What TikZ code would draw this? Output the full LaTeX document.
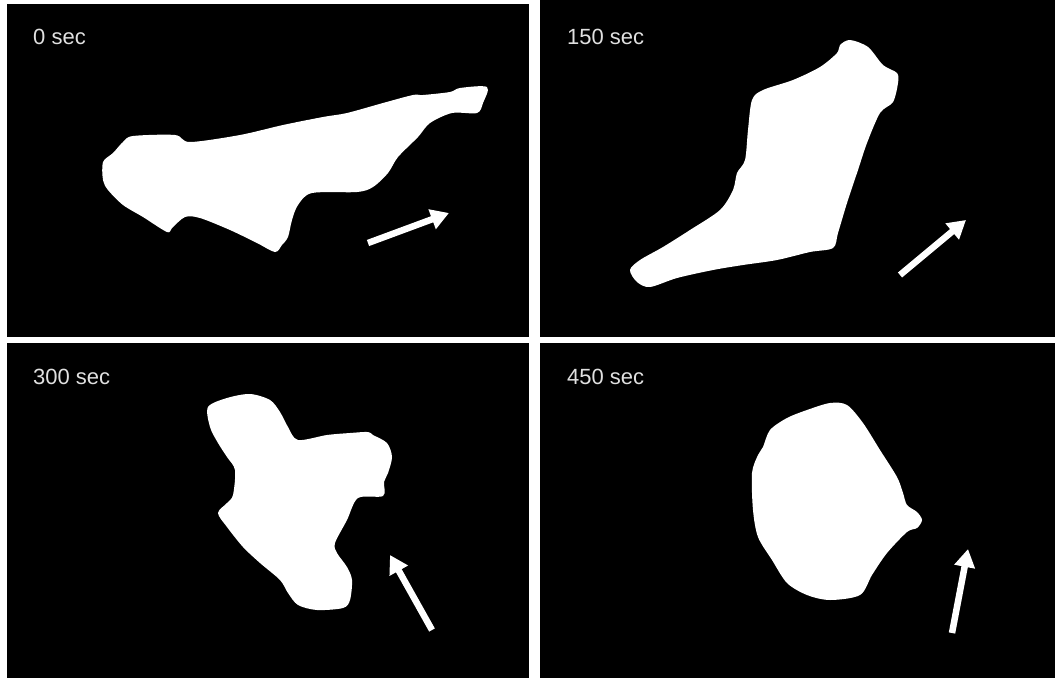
\documentclass[tikz,border=0pt]{standalone}
\usepackage{fontspec}
\setmainfont{Liberation Sans}
\usetikzlibrary{arrows.meta}

\begin{document}
\begin{tikzpicture}[x=1pt, y=-1pt,
  panel/.style={fill=black},
  flow/.style={draw=white, line width=6.5pt, -{Triangle[length=18pt, width=20pt]}},
  stamp/.style={anchor=base west, inner sep=0pt, text=white!88!black, font=\fontsize{22}{25}\selectfont}]
\useasboundingbox (0,0) rectangle (1055,678);
\fill[white] (0,0) rectangle (1055,678);
\fill[panel] (7,4) rectangle (529,337);
\fill[panel] (540,0) rectangle (1055,337);
\fill[panel] (7,343) rectangle (529,678);
\fill[panel] (540,343) rectangle (1055,678);
\node[stamp] (t0) at (33,44) {0 sec};
\node[stamp] (t150) at (567,44) {150 sec};
\node[stamp] (t300) at (33,384) {300 sec};
\node[stamp] (t450) at (567,384) {450 sec};
\fill[white] plot[smooth cycle, tension=0.5] coordinates {
  (103,162) (103,180) (108,190) (123,205) (143,217) (167,232) (172,228) (185,217)
  (200,218) (230,230) (257,243) (275,252) (282,245) (288,237) (292,220) (298,205)
  (312,193) (357,192) (373,187) (388,173) (398,157) (418,137) (430,123) (452,113)
  (477,113) (483,103) (487,87) (460,88) (450,92) (423,95) (413,95) (383,103)
  (347,113) (323,117) (283,125) (240,135) (190,142) (175,135) (133,136) (123,142)
  (113,153)};
\fill[white] plot[smooth cycle, tension=0.5] coordinates {
  (850,40) (868,47) (883,65) (897,73) (898,83) (893,102) (880,113) (867,143)
  (858,170) (847,203) (838,233) (833,248) (810,252) (777,260) (743,265) (713,270)
  (677,278) (650,287) (637,282) (630,270) (640,260) (663,247) (690,230) (720,210)
  (733,190) (737,173) (745,160) (748,130) (752,100) (763,90) (793,80) (820,67)
  (837,53) (840,45)};
\fill[white] plot[smooth cycle, tension=0.5] coordinates {
  (208,407) (227,398) (250,394) (270,400) (280,412) (288,427) (298,440) (327,435)
  (350,433) (368,432) (373,435) (387,443) (392,457) (388,473) (384,482) (383,496)
  (358,498) (347,520) (335,543) (337,553) (347,567) (352,580) (350,600) (343,608)
  (317,610) (298,605) (288,593) (280,580) (260,563) (243,547) (227,527) (218,513)
  (227,503) (233,495) (235,470) (227,457) (218,443) (210,427)};
\fill[white] plot[smooth cycle, tension=0.5] coordinates {
  (830,403) (847,405) (863,423) (880,450) (897,477) (903,493) (907,505) (917,512)
  (922,520) (917,528) (907,532) (887,553) (872,575) (860,595) (830,600) (807,595)
  (787,583) (772,560) (758,537) (753,510) (752,473) (758,455) (763,447) (770,430)
  (787,418) (807,410)};
\coordinate (a0) at (368,243);   \coordinate (b0) at (449,213);
\coordinate (a150) at (900,275); \coordinate (b150) at (966,220);
\coordinate (a300) at (432,630); \coordinate (b300) at (390,555);
\coordinate (a450) at (952,633); \coordinate (b450) at (968,549);
\foreach \t in {0,150,300,450}
  \draw[flow] (a\t) -- (b\t);
\end{tikzpicture}
\end{document}
